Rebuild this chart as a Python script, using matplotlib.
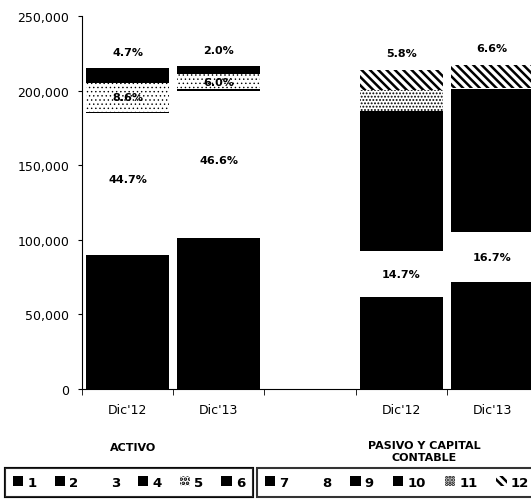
import matplotlib
matplotlib.use("Agg")
import matplotlib.pyplot as plt
import numpy as np
from matplotlib.ticker import FuncFormatter

# categorias (la tercera es el hueco entre grupos)
categorias = ["Dic'12", "Dic'13", "", "Dic'12", "Dic'13"]

# Activo (Dic'12, Dic'13)
s1 = [66000, 81000]
s2 = [24000, 20000]
s3 = [95000, 98500]
s4 = [1000, 1500]
s5 = [19000, 10000]
s6 = [10000, 5500]

# Pasivo y capital contable (Dic'12, Dic'13)
s7 = [61500, 71500]
s8 = [31000, 33500]
s9 = [4000, 3000]
s10 = [90000, 93000]
s11 = [14000, 1000]
s12 = [13500, 15000]

pct_s3 = ["44.7%", "46.6%"]
pct_s5 = ["8.6%", "6.0%"]
pct_s6 = ["4.7%", "2.0%"]
pct_s8 = ["14.7%", "16.7%"]
pct_s12 = ["5.8%", "6.6%"]

fig = plt.figure(figsize=(5.31, 5.02), dpi=100)
ax = fig.add_axes([0.1544, 0.2231, 0.8586, 0.743])

x_act = np.array([0, 1])
x_pas = np.array([3, 4])
w = 0.91

# (estilo, grosor del patron)
estilos_act = [
    (dict(color='black'), 1.0),
    (dict(color='black'), 1.0),
    (dict(color='white'), 1.0),
    (dict(color='black'), 1.0),
    (dict(facecolor='white', edgecolor='black', hatch='....', linewidth=0), 0.5),
    (dict(color='black'), 1.0),
]
estilos_pas = [
    (dict(color='black'), 1.0),
    (dict(color='white'), 1.0),
    (dict(color='black'), 1.0),
    (dict(color='black'), 1.0),
    (dict(facecolor='white', edgecolor='black', hatch='.....', linewidth=0), 0.9),
    (dict(facecolor='white', edgecolor='black', hatch='\\\\\\\\', linewidth=0), 1.8),
]

handles_act = []
base = np.zeros(2)
for vals, (st, hl) in zip([s1, s2, s3, s4, s5, s6], estilos_act):
    plt.rcParams['hatch.linewidth'] = hl
    b = ax.bar(x_act, vals, w, bottom=base, **st)
    handles_act.append(b)
    base = base + np.array(vals)
tot_act = base

handles_pas = []
base = np.zeros(2)
for vals, (st, hl) in zip([s7, s8, s9, s10, s11, s12], estilos_pas):
    plt.rcParams['hatch.linewidth'] = hl
    b = ax.bar(x_pas, vals, w, bottom=base, **st)
    handles_pas.append(b)
    base = base + np.array(vals)
tot_pas = base

txt = dict(ha='center', va='center', fontsize=8, fontweight='bold')

# etiquetas activo
c = np.cumsum([s1, s2, s3, s4, s5, s6], axis=0)
for j in range(2):
    ax.text(x_act[j], c[1][j] + s3[j] / 2 + 3000, pct_s3[j], **txt)
    ax.text(x_act[j], c[3][j] + s5[j] / 2, pct_s5[j], **txt)
    ax.text(x_act[j], tot_act[j] + 11000, pct_s6[j], **txt)

# etiquetas pasivo
c = np.cumsum([s7, s8, s9, s10, s11, s12], axis=0)
for j in range(2):
    ax.text(x_pas[j], c[0][j] + s8[j] / 2, pct_s8[j], **txt)
    ax.text(x_pas[j], tot_pas[j] + 11500, pct_s12[j], **txt)

ax.set_xlim(-0.5, 4.5)
ax.set_ylim(0, 250000)
ax.set_yticks(np.arange(0, 250001, 50000))
ax.yaxis.set_major_formatter(FuncFormatter(lambda v, p: f"{int(v):,}"))
ax.set_xticks(range(len(categorias)))
ax.set_xticklabels(categorias)
ax.set_xticks(np.arange(-0.5, 4.6, 1), minor=True)
ax.tick_params(axis='x', which='major', length=0, pad=10, labelsize=9)
ax.tick_params(axis='x', which='minor', length=4, direction='out')
ax.tick_params(axis='y', length=3, labelsize=9, pad=6)
for s in ['top', 'right']:
    ax.spines[s].set_visible(False)

fig.text(133 / 531, 1 - 448 / 502, "ACTIVO", ha='center', va='center',
         fontsize=8, fontweight='bold')
fig.text(424 / 531, 1 - 452 / 502, "PASIVO Y CAPITAL\nCONTABLE", ha='center',
         va='center', fontsize=8, fontweight='bold', linespacing=1.25)

leg_kw = dict(loc='upper left', mode='expand', ncol=6, borderaxespad=0,
              handlelength=0.8, handleheight=0.8, handletextpad=0.3,
              columnspacing=0.8, fancybox=False, edgecolor='black',
              prop=dict(size=9.5, weight='bold'), borderpad=0.6)
leg1 = fig.legend(handles_act, ['1', '2', '3', '4', '5', '6'],
                  bbox_to_anchor=(5 / 531, -0.02, 248 / 531, 1 - 469 / 502 + 0.02),
                  **leg_kw)
leg1.get_frame().set_linewidth(1.5)
leg2 = fig.legend(handles_pas, ['7', '8', '9', '10', '11', '12'],
                  bbox_to_anchor=(257 / 531, -0.02, 280 / 531, 1 - 469 / 502 + 0.02),
                  **leg_kw)
leg2.get_frame().set_linewidth(1.5)
fig.add_artist(leg1)

fig.savefig("out.png", dpi=100)
